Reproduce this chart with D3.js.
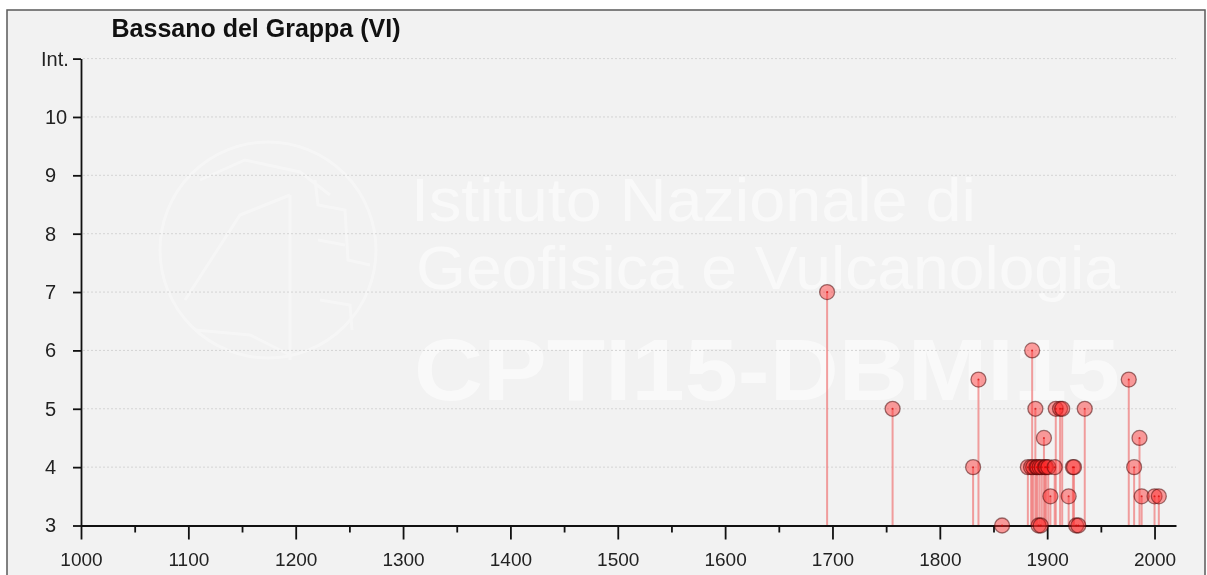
<!DOCTYPE html>
<html>
<head>
<meta charset="utf-8">
<script src="https://cdn.jsdelivr.net/npm/d3@7"></script>
<style>
  body { margin: 0; background: #fff; }
  svg { display: block; font-family: "Liberation Sans", Arial, sans-serif; }
</style>
</head>
<body>
<div id="chart"></div>
<script>
// Data: year of the event and intensity felt at the site
const years = [1695, 1756, 1831, 1836, 1858, 1882, 1885, 1886, 1887, 1889, 1890, 1891,
  1892, 1893, 1894, 1895, 1897, 1898, 1899, 1901, 1903, 1907, 1908, 1912, 1914,
  1920, 1924, 1925, 1927, 1929, 1935, 1976, 1981, 1986, 1988, 2000, 2004];
const intensities = [7, 5, 4, 5.5, 3, 4, 4, 6, 4, 5, 4, 4,
  3, 4, 3, 4, 4.5, 4, 4, 4, 3.5, 4, 5, 5, 5,
  3.5, 4, 4, 3, 3, 5, 5.5, 4, 4.5, 3.5, 3.5, 3.5];
const xTickValues = [1000, 1100, 1200, 1300, 1400, 1500, 1600, 1700, 1800, 1900, 2000];
const xMinorValues = [1050, 1150, 1250, 1350, 1450, 1550, 1650, 1750, 1850, 1950];
const yTickValues = [3, 4, 5, 6, 7, 8, 9, 10, 11];
const title = "Bassano del Grappa (VI)";
const watermarkLines = ["Istituto Nazionale di", "Geofisica e Vulcanologia", "CPTI15-DBMI15"];

const data = years.map((y, i) => ({ year: y, int: intensities[i] }));

const W = 1207, H = 575;
const svg = d3.select("#chart").append("svg")
  .attr("width", W).attr("height", H);

// panel
svg.append("rect")
  .attr("x", 7).attr("y", 10).attr("width", 1198).attr("height", 580)
  .attr("fill", "#f2f2f2")
  .attr("stroke", "#5a5a5a").attr("stroke-width", 1.5);

const x = d3.scaleLinear().domain([1000, 2020]).range([81, 1176]);
const y = d3.scaleLinear().domain([3, 11]).range([525.5, 58.6]);

// watermark (faint logo + institute name)
const wm = svg.append("g").attr("fill", "#fff").attr("opacity", 0.55);
const logo = wm.append("g").attr("opacity", 0.6)
  .attr("fill", "none").attr("stroke", "#fff").attr("stroke-width", 3);
logo.append("circle").attr("cx", 268).attr("cy", 250).attr("r", 108);
logo.append("path")
  .attr("d", "M200,180 L245,160 L300,172 L330,195 M185,300 L240,215 L290,195 M195,330 L250,335 L290,355 M290,195 L290,360 M315,180 L318,205 L345,210 L348,260 L370,265 M318,240 L345,245 M320,300 L350,305 L352,330");
wm.append("text").attr("x", 411).attr("y", 221)
  .attr("font-size", 62).attr("textLength", 565).attr("lengthAdjust", "spacingAndGlyphs")
  .text(watermarkLines[0]);
wm.append("text").attr("x", 416).attr("y", 289)
  .attr("font-size", 62).attr("textLength", 704).attr("lengthAdjust", "spacingAndGlyphs")
  .text(watermarkLines[1]);
wm.append("text").attr("x", 414).attr("y", 400)
  .attr("font-size", 88).attr("font-weight", "bold").attr("textLength", 706).attr("lengthAdjust", "spacingAndGlyphs")
  .text(watermarkLines[2]);

// gridlines
svg.append("g").selectAll("line")
  .data(yTickValues.filter(d => d > 3))
  .join("line")
  .attr("x1", 83).attr("x2", 1176)
  .attr("y1", d => y(d)).attr("y2", d => y(d))
  .attr("stroke", "#d4d4d4").attr("stroke-width", 1)
  .attr("stroke-dasharray", "2,2");

// title
svg.append("text")
  .attr("x", 256).attr("y", 37)
  .attr("text-anchor", "middle")
  .attr("font-size", 25).attr("font-weight", "bold")
  .attr("fill", "#111")
  .text(title);

// stems
svg.append("g").selectAll("line")
  .data(data)
  .join("line")
  .attr("x1", d => x(d.year)).attr("x2", d => x(d.year))
  .attr("y1", d => y(d.int)).attr("y2", y(3))
  .attr("stroke", "#f07878").attr("stroke-opacity", 0.7).attr("stroke-width", 2);

// x axis
const xAxis = svg.append("g")
  .attr("transform", `translate(0,${y(3)})`)
  .call(d3.axisBottom(x).tickValues(xTickValues).tickSize(14).tickPadding(13)
    .tickFormat(d3.format("d")).tickSizeOuter(0));
xAxis.select(".domain").attr("stroke", "#111").attr("stroke-width", 1.8);
xAxis.selectAll(".tick line").attr("stroke", "#111").attr("stroke-width", 1.8);
xAxis.selectAll("text").attr("font-size", 19).attr("fill", "#222")
  .attr("font-family", "'Liberation Sans', Arial, sans-serif");

const xMinor = svg.append("g")
  .attr("transform", `translate(0,${y(3)})`)
  .call(d3.axisBottom(x).tickValues(xMinorValues).tickSize(7).tickFormat(""));
xMinor.select(".domain").remove();
xMinor.selectAll(".tick line").attr("stroke", "#111").attr("stroke-width", 1.8);

// y axis
const yAxis = svg.append("g")
  .attr("transform", `translate(${x(1000)},0)`)
  .call(d3.axisLeft(y).tickValues(yTickValues).tickSize(8).tickSizeOuter(0)
    .tickFormat(d => d === 11 ? "Int." : d));
yAxis.select(".domain").attr("stroke", "#111").attr("stroke-width", 1.8);
yAxis.selectAll(".tick line").attr("stroke", "#111").attr("stroke-width", 1.8);
yAxis.selectAll("text")
  .attr("font-size", 20).attr("fill", "#222")
  .attr("font-family", "'Liberation Sans', Arial, sans-serif")
  .attr("text-anchor", "start")
  .attr("x", d => d === 11 ? -40 : -36);

// points
const pts = svg.append("g");
pts.selectAll("circle.pt")
  .data(data)
  .join("circle")
  .attr("class", "pt")
  .attr("cx", d => x(d.year)).attr("cy", d => y(d.int))
  .attr("r", 7.5)
  .attr("fill", "#ff2a2a").attr("fill-opacity", 0.45)
  .attr("stroke", "#400000").attr("stroke-opacity", 0.5).attr("stroke-width", 1.3);
pts.selectAll("circle.dot")
  .data(data)
  .join("circle")
  .attr("class", "dot")
  .attr("cx", d => x(d.year)).attr("cy", d => y(d.int))
  .attr("r", 1)
  .attr("fill", "#d00000").attr("fill-opacity", 0.7);
</script>
</body>
</html>
